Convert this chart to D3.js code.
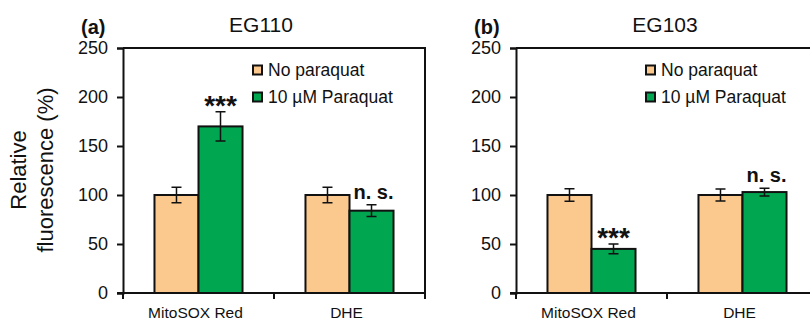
<!DOCTYPE html>
<html>
<head>
<meta charset="utf-8">
<script src="https://cdn.jsdelivr.net/npm/d3@7"></script>
<style>
  body { margin: 0; background: #fff; }
  svg text { font-family: Arial, "Liberation Sans", sans-serif; fill: #111; }
</style>
</head>
<body>
<div id="content"><svg width="810" height="323"></svg></div>
<script>
// data
var categories = ["MitoSOX Red", "DHE"];
var series = ["No paraquat", "10 \u00b5M Paraquat"];
var panelTitles = ["EG110", "EG103"];
var panelTags = ["(a)", "(b)"];
var yTicks = [0, 50, 100, 150, 200, 250];

// [category][series]
var eg110Means = [[100, 170], [100, 84]];
var eg110Errs = [[8, 15], [8, 6]];
var eg110Signif = ["***", "n. s."];

var eg103Means = [[100, 45], [100, 103]];
var eg103Errs = [[6.5, 5], [6, 4]];
var eg103Signif = ["***", "n. s."];

var colors = ["#fbc88e", "#00a650"];

var svg = d3.select("svg");
var y = d3.scaleLinear().domain([0, 250]).range([293, 48]);

var panels = [
  { x0: 123, x1: 425, titleX: 261, means: eg110Means, errs: eg110Errs, signif: eg110Signif },
  { x0: 516, x1: 818, titleX: 665, means: eg103Means, errs: eg103Errs, signif: eg103Signif }
];

panels.forEach(function(p, pi) {
  var g = svg.append("g");

  var x = d3.scaleBand().domain(categories).range([p.x0, p.x1])
      .paddingInner(0.417).paddingOuter(0.2085);
  var xs = d3.scaleBand().domain(series).range([0, x.bandwidth()]);
  var xAxisScale = d3.scaleBand().domain(categories).range([p.x0, p.x1]);

  // frame top + right
  g.append("path")
    .attr("d", "M" + p.x0 + "," + y(250) + "H" + p.x1 + "V" + y(0))
    .attr("fill", "none").attr("stroke", "#111").attr("stroke-width", 2);

  // bars
  categories.forEach(function(c, ci) {
    series.forEach(function(s, si) {
      var v = p.means[ci][si], e = p.errs[ci][si];
      var bx = x(c) + xs(s);
      g.append("rect")
        .attr("x", bx).attr("y", y(v))
        .attr("width", xs.bandwidth()).attr("height", y(0) - y(v))
        .attr("fill", colors[si]).attr("stroke", "#111").attr("stroke-width", 2);
      var cx = bx + xs.bandwidth() / 2;
      g.append("path")
        .attr("d", "M" + cx + "," + y(v + e) + "V" + y(v - e) +
                   "M" + (cx - 5) + "," + y(v + e) + "H" + (cx + 5) +
                   "M" + (cx - 5) + "," + y(v - e) + "H" + (cx + 5))
        .attr("stroke", "#111").attr("stroke-width", 1.5).attr("fill", "none");
    });
    // significance over paraquat bar
    var top = p.means[ci][1] + p.errs[ci][1];
    var sx = x(c) + xs(series[1]) + xs.bandwidth() / 2;
    var isStar = p.signif[ci] === "***";
    g.append("text")
      .attr("x", isStar ? sx : sx + 2)
      .attr("y", isStar ? y(top) + 3 : y(top) - 6)
      .attr("text-anchor", "middle")
      .style("font-size", isStar ? "28px" : "20px")
      .style("font-weight", "bold")
      .text(p.signif[ci]);
  });

  // y axis
  var ya = g.append("g").attr("transform", "translate(" + p.x0 + ",0)")
    .call(d3.axisLeft(y).tickValues(yTicks).tickSize(6).tickPadding(9));
  ya.select(".domain").attr("stroke", "#111").attr("stroke-width", 2);
  ya.selectAll(".tick line").attr("stroke", "#111").attr("stroke-width", 2);
  ya.selectAll(".tick text").style("font-size", "18px").attr("fill", "#111");

  // x axis
  var xa = g.append("g").attr("transform", "translate(0," + y(0) + ")");
  xa.append("line").attr("x1", p.x0 - 6).attr("x2", p.x1)
    .attr("stroke", "#111").attr("stroke-width", 2);
  var bounds = [p.x0].concat(categories.map(function(c) { return xAxisScale(c) + xAxisScale.bandwidth(); }));
  xa.selectAll("line.tk").data(bounds).enter().append("line").attr("class", "tk")
    .attr("x1", function(d) { return d; }).attr("x2", function(d) { return d; })
    .attr("y1", 0).attr("y2", 6).attr("stroke", "#111").attr("stroke-width", 2);
  xa.selectAll("text").data(categories).enter().append("text")
    .attr("x", function(d) { return xAxisScale(d) + xAxisScale.bandwidth() / 2 - 3; })
    .attr("y", 25)
    .attr("text-anchor", "middle")
    .style("font-size", "15.5px")
    .text(function(d) { return d; });

  // legend
  var lg = g.append("g").attr("transform", "translate(" + (p.x0 + 130) + ",70)");
  series.forEach(function(s, si) {
    lg.append("rect").attr("x", 0).attr("y", si * 27 - 4.5).attr("width", 9).attr("height", 9)
      .attr("fill", colors[si]).attr("stroke", "#111").attr("stroke-width", 2);
    lg.append("text").attr("x", 15).attr("y", si * 27 + 6)
      .style("font-size", "17.5px").text(s);
  });

  // title and tag
  g.append("text").attr("x", p.titleX).attr("y", 32).attr("text-anchor", "middle")
    .style("font-size", "21px").text(panelTitles[pi]);
  g.append("text").attr("x", p.x0 - 42).attr("y", 34)
    .style("font-size", "20px").style("font-weight", "bold").text(panelTags[pi]);
});

// y label
var yl = svg.append("g").attr("transform", "translate(0,170) rotate(-90)");
yl.append("text").attr("x", 0).attr("y", 26).attr("text-anchor", "middle")
  .style("font-size", "22px").text("Relative");
yl.append("text").attr("x", 0).attr("y", 53).attr("text-anchor", "middle")
  .style("font-size", "22px").text("fluorescence (%)");
</script>
</body>
</html>
